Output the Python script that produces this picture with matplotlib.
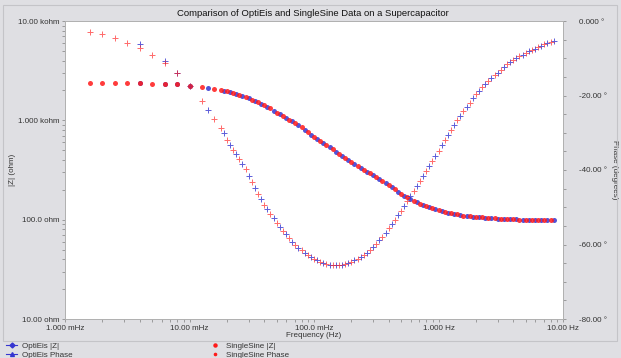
import matplotlib
matplotlib.use("Agg")
import matplotlib.pyplot as plt
from matplotlib.lines import Line2D
from matplotlib.patches import Rectangle
from matplotlib.ticker import FixedLocator, FixedFormatter, LogLocator, NullFormatter, MultipleLocator

# SingleSine data (Hz, ohm, degrees)
ss_freq = [0.001585, 0.001995, 0.002512, 0.003162, 0.003981, 0.005012, 0.006310, 0.007943,
           0.01, 0.01259, 0.01585, 0.01778, 0.01995, 0.02239, 0.02512, 0.02818, 0.03162,
           0.03548, 0.03981, 0.04467, 0.05012, 0.05623, 0.06310, 0.07079, 0.07943, 0.08913,
           0.1, 0.1122, 0.1259, 0.1413, 0.1585, 0.1778, 0.1995, 0.2239, 0.2512, 0.2818,
           0.3162, 0.3548, 0.3981, 0.4467, 0.5012, 0.5623, 0.6310, 0.7079, 0.7943, 0.8913,
           1.0, 1.122, 1.259, 1.413, 1.585, 1.778, 1.995, 2.239, 2.512, 2.818, 3.162, 3.548,
           3.981, 4.467, 5.012, 5.623, 6.310, 7.079, 7.943]
ss_zmod = [2360, 2360, 2358, 2355, 2350, 2339, 2323, 2296, 2213, 2163, 2051, 2018, 1959,
           1879, 1799, 1706, 1618, 1521, 1416, 1318, 1197, 1107, 1016, 944, 851, 759, 679,
           617, 568, 509, 457, 415, 379, 346, 314, 293, 269, 247, 224, 202, 183, 168, 155,
           145, 136, 130, 125, 120, 116, 113, 110, 108, 106.4, 105.2, 103.8, 102.8, 101.9,
           101.2, 100.7, 100.2, 100.0, 99.8, 99.5, 99.3, 99.1]
ss_phase = [-2.9, -3.6, -4.6, -5.8, -7.3, -9.1, -11.3, -13.9, -17.5, -21.4, -26.2, -28.6,
            -31.9, -34.5, -37.0, -39.8, -43.1, -46.5, -49.3, -51.9, -54.1, -56.3, -58.3,
            -60.2, -61.6, -62.9, -63.8, -64.6, -65.2, -65.5, -65.5, -65.2, -64.6, -63.8,
            -62.8, -61.5, -59.8, -58.0, -55.7, -53.3, -50.9, -48.2, -45.6, -43.0, -40.3,
            -37.6, -34.8, -32.0, -29.3, -26.7, -24.2, -21.9, -19.7, -17.8, -16.1, -14.6,
            -13.1, -11.6, -10.4, -9.4, -8.5, -7.7, -7.0, -6.3, -5.6]

# OptiEis data (Hz, ohm, degrees)
oe_freq = [0.003981, 0.006310, 0.007943, 0.01, 0.01413, 0.01884, 0.02113, 0.02371, 0.02661,
           0.02985, 0.03350, 0.03758, 0.04217, 0.04732, 0.05309, 0.05957, 0.06683, 0.07499,
           0.08414, 0.09441, 0.1059, 0.1189, 0.1334, 0.1496, 0.1679, 0.1884, 0.2113, 0.2371,
           0.2661, 0.2985, 0.3350, 0.3758, 0.4217, 0.4732, 0.5309, 0.5957, 0.6683, 0.7499,
           0.8414, 0.9441, 1.059, 1.189, 1.334, 1.496, 1.679, 1.884, 2.113, 2.371, 2.661,
           2.985, 3.350, 3.758, 4.217, 4.732, 5.309, 5.957, 6.683, 7.499, 8.414]
oe_zmod = [2350, 2323, 2296, 2213, 2099, 1991, 1919, 1841, 1754, 1663, 1570, 1469, 1368,
           1256, 1151, 1062, 979, 897, 804, 718, 647, 592, 538, 483, 436, 397, 362, 330,
           303, 281, 258, 235, 213, 192, 175, 161, 150, 141, 133, 128, 123, 118, 114, 111,
           109, 107, 106, 104.4, 103.3, 102.3, 101.6, 100.9, 100.5, 100.1, 99.9, 99.7,
           99.4, 99.2, 99.0]
oe_phase = [-6.3, -10.7, -13.9, -17.5, -23.9, -30.2, -33.2, -35.8, -38.4, -41.5, -44.8,
            -47.9, -50.6, -53.0, -55.2, -57.3, -59.3, -60.9, -62.3, -63.4, -64.2, -64.9,
            -65.4, -65.5, -65.4, -64.9, -64.2, -63.3, -62.2, -60.7, -58.9, -56.9, -54.5,
            -52.1, -49.6, -46.9, -44.3, -41.7, -39.0, -36.2, -33.4, -30.7, -28.0, -25.5,
            -23.1, -20.8, -18.8, -17.0, -15.4, -13.9, -12.4, -11.0, -9.9, -9.0, -8.1, -7.4,
            -6.7, -6.0, -5.3]

x_ticks = [0.001, 0.01, 0.1, 1, 10]
x_labels = ["1.000 mHz", "10.00 mHz", "100.0 mHz", "1.000 Hz", "10.00 Hz"]
z_ticks = [10, 100, 1000, 10000]
z_labels = ["10.00 ohm", "100.0 ohm", "1.000 kohm", "10.00 kohm"]
ph_ticks = [-80, -60, -40, -20, 0]
ph_labels = ["-80.00 °", "-60.00 °", "-40.00 °", "-20.00 °", "0.000 °"]

BG = "#dfdfe3"
BLUE = "#3535d0"
RED = "#ff1a1a"
TXT = "#333333"
TICK = "#909090"
FS = 5.8

plt.rcParams["font.family"] = ["Liberation Sans", "DejaVu Sans"]

fig = plt.figure(figsize=(6.21, 3.58), dpi=100, facecolor=BG)
ax = fig.add_axes([65 / 621, 1 - 319 / 358, 498 / 621, 298 / 358])
ax.set_facecolor("white")

ax.plot(oe_freq, oe_zmod, "o", color=BLUE, ms=3.6, mec="none", alpha=0.85)
ax.plot(ss_freq, ss_zmod, "o", color=RED, ms=3.6, mec="none", alpha=0.85)
ax.set_xscale("log")
ax.set_yscale("log")
ax.set_xlim(1e-3, 10)
ax.set_ylim(10, 10000)

ax2 = ax.twinx()
ax2.plot(oe_freq, oe_phase, "+", color=BLUE, ms=4.5, mew=0.7, alpha=0.8)
ax2.plot(ss_freq, ss_phase, "+", color=RED, ms=4.5, mew=0.7, alpha=0.65)
ax2.set_ylim(-80, 0)

ax.xaxis.set_major_locator(FixedLocator(x_ticks))
ax.xaxis.set_major_formatter(FixedFormatter(x_labels))
ax.xaxis.set_minor_locator(LogLocator(base=10, subs=range(2, 10)))
ax.xaxis.set_minor_formatter(NullFormatter())
ax.yaxis.set_major_locator(FixedLocator(z_ticks))
ax.yaxis.set_major_formatter(FixedFormatter(z_labels))
ax.yaxis.set_minor_locator(LogLocator(base=10, subs=range(2, 10)))
ax.yaxis.set_minor_formatter(NullFormatter())
ax2.yaxis.set_major_locator(FixedLocator(ph_ticks))
ax2.yaxis.set_major_formatter(FixedFormatter(ph_labels))
ax2.yaxis.set_minor_locator(MultipleLocator(5))

for a in (ax, ax2):
    a.tick_params(which="both", direction="out", colors=TICK, labelcolor=TXT, labelsize=FS,
                  width=0.6)
    a.tick_params(which="major", length=2.5)
    a.tick_params(which="minor", length=2)
    for s in a.spines.values():
        s.set_color("#b0b0b0")
        s.set_linewidth(0.6)
ax.tick_params(axis="y", pad=1.5)
ax.tick_params(axis="x", pad=1.5)
ax2.tick_params(axis="y", pad=9)

ax.set_xlabel("Frequency (Hz)", fontsize=FS, color=TXT)
ax.xaxis.set_label_coords(0.5, -0.044)
ax.set_ylabel("|Z| (ohm)", fontsize=FS, color=TXT)
ax.yaxis.set_label_coords(-0.098, 0.5)
ax2.set_ylabel("Phase (degrees)", fontsize=FS, color=TXT, rotation=270, va="center")
ax2.yaxis.set_label_coords(1.104, 0.5)

fig.text(313 / 621, 1 - 13 / 358, "Comparison of OptiEis and SingleSine Data on a Supercapacitor",
         ha="center", va="center", fontsize=6.8, color="#111111")

# frame and legend separator
fig.add_artist(Rectangle((3 / 621, 1 - 340.5 / 358), 614 / 621, 335.5 / 358, transform=fig.transFigure,
                         fill=False, edgecolor="#c4c4c8", lw=0.8))

handles = [
    Line2D([], [], color=BLUE, marker="D", ms=2.5, lw=0.8),
    Line2D([], [], color=BLUE, marker="^", ms=2.8, lw=0.8),
    Line2D([], [], color=RED, marker="o", ms=2.2, ls="none"),
    Line2D([], [], color=RED, marker="o", ms=1.6, ls="none"),
]
labels = ["OptiEis |Z|", "OptiEis Phase", "SingleSine |Z|", "SingleSine Phase"]
fig.legend(handles, labels, loc="lower left", bbox_to_anchor=(6 / 621, -0.002), ncol=2,
           frameon=False, fontsize=FS, handlelength=1.4, handletextpad=0.6, borderpad=0,
           borderaxespad=0, columnspacing=17.0, labelspacing=0.1, labelcolor=TXT)

fig.savefig("out.png", dpi=100, facecolor=BG)
